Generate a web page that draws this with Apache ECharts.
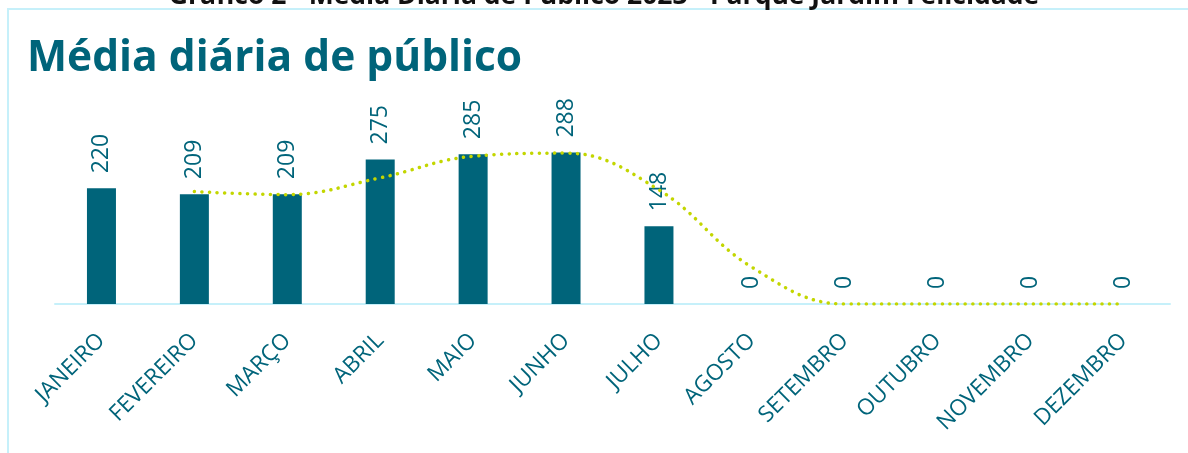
<!DOCTYPE html>
<html>
<head>
<meta charset="utf-8">
<script src="https://cdn.jsdelivr.net/npm/echarts@6/dist/echarts.min.js"></script>
<style>
    html, body { margin: 0; padding: 0; background: #fff; }
    #main { width: 1188px; height: 453px; }
</style>
</head>
<body>
<div id="main"></div>
<script type="text/javascript">
    // dados
    var meses = ['JANEIRO', 'FEVEREIRO', 'MARÇO', 'ABRIL', 'MAIO', 'JUNHO', 'JULHO', 'AGOSTO', 'SETEMBRO', 'OUTUBRO', 'NOVEMBRO', 'DEZEMBRO'];
    var publico = [220, 209, 209, 275, 285, 288, 148, 0, 0, 0, 0, 0];
    // linha de tendência (média móvel)
    var tendencia = [null, 214, 208, 240, 281, 287, 217, 70, 0, 0, 0, 0];

    var teal = '#00647a';
    var fonte = '"Open Sans", "Noto Sans", sans-serif';

    var rotulo = {
        show: true,
        position: 'top',
        rotate: 90,
        align: 'left',
        verticalAlign: 'middle',
        distance: 15,
        color: teal,
        fontSize: 23,
        fontFamily: fonte
    };

    // cada barra com o seu rótulo vertical
    var barras = publico.map(function (v) {
        return { value: v, label: { rotate: 90 } };
    });

    var myChart = echarts.init(document.getElementById('main'));
    var option = {
        animation: false,
        backgroundColor: '#fff',
        title: {
            text: 'Média diária de público',
            left: 27,
            top: 37,
            padding: 0,
            textStyle: { color: teal, fontSize: 42.5, fontWeight: 'bold', fontFamily: fonte }
        },
        graphic: [
            {
                type: 'rect',
                shape: { x: 8, y: 9, width: 2000, height: 2000 },
                style: { fill: 'none', stroke: '#c6f0fa', lineWidth: 2 },
                z: 0
            },
            {
                type: 'text',
                x: 604,
                y: 10,
                style: {
                    text: 'Gráfico 2 - Média Diária de Público 2023 - Parque Jardim Felicidade',
                    fill: '#111',
                    font: 'bold 26.5px ' + fonte,
                    textAlign: 'center',
                    textVerticalAlign: 'bottom'
                }
            }
        ],
        grid: { left: 55, right: 18, top: 120, bottom: 149 },
        xAxis: {
            type: 'category',
            data: meses,
            axisLine: { lineStyle: { color: '#c6f0fa', width: 2 } },
            axisTick: { show: false },
            axisLabel: {
                interval: 0,
                rotate: 45,
                margin: 33,
                color: teal,
                fontSize: 22.5,
                fontFamily: fonte
            }
        },
        yAxis: {
            type: 'value',
            min: 0,
            max: 350,
            show: false
        },
        series: [
            {
                type: 'bar',
                data: barras,
                barWidth: 29,
                itemStyle: { color: teal },
                label: rotulo,
                z: 2
            },
            {
                type: 'line',
                data: tendencia,
                smooth: 0.4,
                symbol: 'none',
                lineStyle: { color: '#c3d600', width: 3.5, type: [0.1, 7.5], cap: 'round' },
                z: 3
            }
        ]
    };
    myChart.setOption(option);
</script>
</body>
</html>
